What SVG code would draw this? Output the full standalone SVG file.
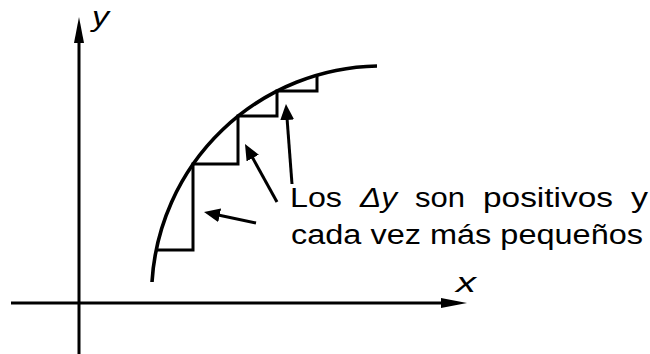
<svg xmlns="http://www.w3.org/2000/svg" width="650" height="354" viewBox="0 0 650 354">
  <style>
    .ln { fill: none; stroke: #000; stroke-width: 3; }
    .cv { fill: none; stroke: #000; stroke-width: 3.6; }
    .t { font-family: "Liberation Sans", Arial, sans-serif; font-size: 27px; fill: #000; }
    .ax { font-family: "Liberation Sans", Arial, sans-serif; font-size: 28px; fill: #000; font-style: italic; }
    .i { font-style: italic; }
  </style>
  <defs>
    <marker id="axHead" markerUnits="userSpaceOnUse" markerWidth="26" markerHeight="10" viewBox="0 0 26 10" refX="16" refY="5" orient="auto">
      <path d="M0,0 L26,5 L0,10 z" fill="#000"/>
    </marker>
    <marker id="callHead" markerUnits="userSpaceOnUse" markerWidth="16" markerHeight="14" viewBox="0 0 16 14" refX="10" refY="7" orient="auto">
      <path d="M0,0 L16,7 L0,14 z" fill="#000"/>
    </marker>
  </defs>

  <g id="axes">
    <line class="ln" x1="79" y1="354" x2="79" y2="27" marker-end="url(#axHead)"/>
    <line class="ln" x1="11" y1="303" x2="457" y2="303" marker-end="url(#axHead)"/>
    <text class="ax" x="92" y="26" textLength="17" lengthAdjust="spacingAndGlyphs">y</text>
    <text class="ax" x="456" y="292" textLength="20" lengthAdjust="spacingAndGlyphs">x</text>
  </g>

  <g id="curve">
    <path class="cv" d="M152,282 A230,230 0 0 1 377,66"/>
  </g>

  <g id="steps">
    <path class="ln" d="M156,250 H193 V164 H238 V116 H277 V91 H317 V76"/>
  </g>

  <g id="connectors">
    <line class="ln" x1="292" y1="184" x2="286.4" y2="110" marker-end="url(#callHead)"/>
    <line class="ln" x1="277" y1="202" x2="247.9" y2="149.3" marker-end="url(#callHead)"/>
    <line class="ln" x1="256" y1="223" x2="209.9" y2="213.2" marker-end="url(#callHead)"/>
  </g>

  <g id="label">
    <text class="t" x="290" y="207" textLength="52" lengthAdjust="spacingAndGlyphs">Los</text>
    <text class="t i" x="360" y="207" textLength="37" lengthAdjust="spacingAndGlyphs">Δy</text>
    <text class="t" x="415" y="207" textLength="50" lengthAdjust="spacingAndGlyphs">son</text>
    <text class="t" x="483" y="207" textLength="130" lengthAdjust="spacingAndGlyphs">positivos</text>
    <text class="t" x="631" y="207" textLength="17" lengthAdjust="spacingAndGlyphs">y</text>
    <text class="t" x="291" y="244" textLength="352" lengthAdjust="spacingAndGlyphs">cada vez más pequeños</text>
  </g>
</svg>
